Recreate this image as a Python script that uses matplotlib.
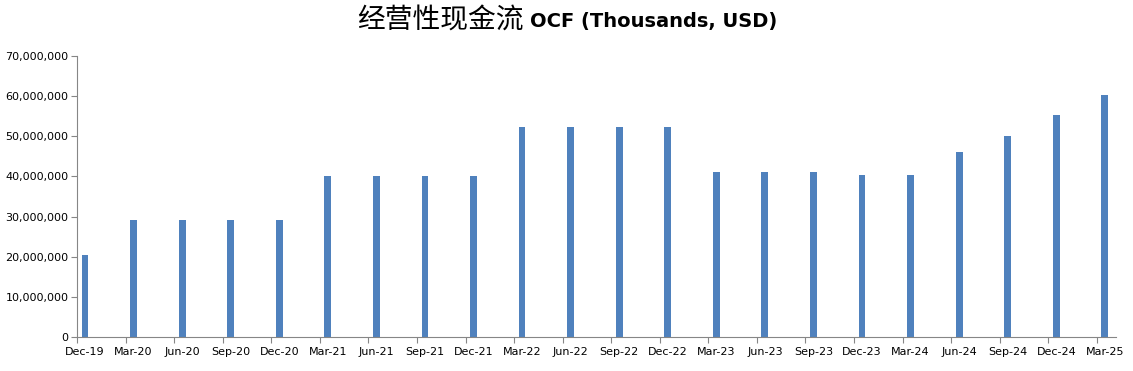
import matplotlib.pyplot as plt
from matplotlib.ticker import FuncFormatter, MultipleLocator

OUTPUT_PATH = "out.png"
FIGURE_SIZE = (11.33, 3.71)
DPI = 100
BAR_COLOR = "#4F81BD"
AXIS_COLOR = "#868686"

TITLE_CN = "经营性现金流"
TITLE_EN = "OCF (Thousands, USD)"

quarters = [
    "Dec-19", "Mar-20", "Jun-20", "Sep-20", "Dec-20",
    "Mar-21", "Jun-21", "Sep-21", "Dec-21",
    "Mar-22", "Jun-22", "Sep-22", "Dec-22",
    "Mar-23", "Jun-23", "Sep-23", "Dec-23",
    "Mar-24", "Jun-24", "Sep-24", "Dec-24", "Mar-25",
]
ocf = [
    20_500_000, 29_200_000, 29_200_000, 29_200_000, 29_200_000,
    40_000_000, 40_000_000, 40_000_000, 40_000_000,
    52_400_000, 52_400_000, 52_400_000, 52_400_000,
    41_200_000, 41_200_000, 41_200_000, 40_300_000,
    40_300_000, 46_000_000, 50_000_000, 55_200_000, 60_200_000,
]


def main() -> None:
    plt.rcParams["font.family"] = ["DejaVu Sans"]
    fig = plt.figure(figsize=FIGURE_SIZE, dpi=DPI)
    ax = fig.add_axes([77 / 1133, 34 / 371, (1116 - 77) / 1133, (337 - 56) / 371])

    x = list(range(len(quarters)))
    ax.bar(x, ocf, width=0.14, color=BAR_COLOR, zorder=2)

    # tick marks sit just left of each bar, labels centred under the bars
    offset = 0.165
    ax.set_xlim(-offset, len(quarters) - 1 + 0.23)
    ax.set_xticks([i - offset for i in x])
    ax.set_xticklabels([])
    ax.set_xticks(x, minor=True)
    ax.set_xticklabels(quarters, minor=True, fontsize=8)
    ax.tick_params(axis="x", which="major", length=4, color=AXIS_COLOR)
    ax.tick_params(axis="x", which="minor", length=0, pad=7)

    ax.set_ylim(0, 70_000_000)
    ax.yaxis.set_major_locator(MultipleLocator(10_000_000))
    ax.yaxis.set_major_formatter(FuncFormatter(lambda v, _: f"{v:,.0f}"))
    ax.tick_params(axis="y", length=4, color=AXIS_COLOR, labelsize=8, pad=2)

    for side in ("top", "right"):
        ax.spines[side].set_visible(False)
    for side in ("left", "bottom"):
        ax.spines[side].set_color(AXIS_COLOR)

    # title: Chinese part in regular weight, latin part bold
    title_y = 1 - 21 / 371
    fig.text(
        524 / 1133, title_y + 1 / 371, TITLE_CN,
        ha="right", va="center", fontsize=20,
        family=["Noto Sans CJK SC", "DejaVu Sans"],
    )
    fig.text(
        530 / 1133, title_y, TITLE_EN,
        ha="left", va="center", fontsize=14, fontweight="bold",
        family=["DejaVu Sans"],
    )

    fig.savefig(OUTPUT_PATH, dpi=DPI)


if __name__ == "__main__":
    main()
